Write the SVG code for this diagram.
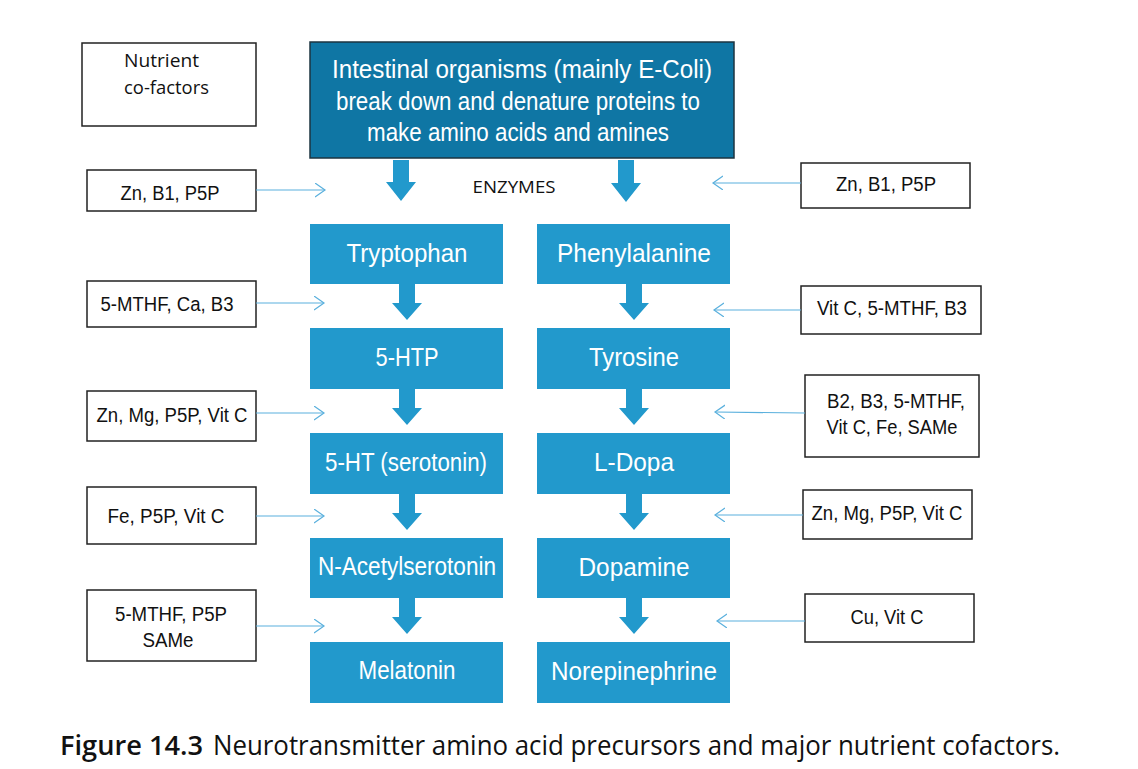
<svg xmlns="http://www.w3.org/2000/svg" width="1138" height="769" viewBox="0 0 1138 769">
<defs>
<style>
.main{fill:#0f76a4;stroke:#1d3440;stroke-width:1.5}
.step{fill:#2299cc}
.cf{fill:#fff;stroke:#222;stroke-width:1.5}
.wt{font-family:"Liberation Sans",Arial,sans-serif;fill:#fff;font-size:25px;text-anchor:middle}
.bt{font-family:"Liberation Sans",Arial,sans-serif;fill:#111;font-size:20.5px;text-anchor:middle}
.ot{font-family:"Open Sans","Liberation Sans",sans-serif;fill:#111}
.blk{fill:#2299cc}
.con{stroke:#5ab0dd;stroke-width:1.2;fill:none;marker-end:url(#chev)}
</style>
<marker id="chev" markerUnits="userSpaceOnUse" markerWidth="12" markerHeight="16" refX="10" refY="7" orient="auto">
<path d="M0,0 L10,7 L0,14" fill="none" stroke="#5ab0dd" stroke-width="1.2"/>
</marker>
</defs>
<rect width="1138" height="769" fill="#fff"/>

<g id="nutrient-cofactors">
<rect class="cf" x="82" y="43" width="174" height="83"/>
<text class="ot" x="124" y="67" font-size="18" textLength="75" lengthAdjust="spacingAndGlyphs">Nutrient</text>
<text class="ot" x="124" y="94" font-size="18" textLength="85" lengthAdjust="spacingAndGlyphs">co-factors</text>
</g>

<g id="intestinal">
<rect class="main" x="310" y="42" width="424" height="116"/>
<text class="wt" x="522" y="78" textLength="380" lengthAdjust="spacingAndGlyphs">Intestinal organisms (mainly E-Coli)</text>
<text class="wt" x="518" y="110" textLength="364" lengthAdjust="spacingAndGlyphs">break down and denature proteins to</text>
<text class="wt" x="518" y="141" textLength="302" lengthAdjust="spacingAndGlyphs">make amino acids and amines</text>
</g>

<g id="enzymes">
<text class="ot" x="514" y="193" font-size="16" text-anchor="middle" textLength="83" lengthAdjust="spacingAndGlyphs">ENZYMES</text>
</g>

<g id="tryptophan"><rect class="step" x="310" y="224" width="193" height="60"/><text class="wt" x="407" y="262" textLength="121" lengthAdjust="spacingAndGlyphs">Tryptophan</text></g>
<g id="htp"><rect class="step" x="310" y="328" width="193" height="61"/><text class="wt" x="407" y="366" textLength="63" lengthAdjust="spacingAndGlyphs">5-HTP</text></g>
<g id="serotonin"><rect class="step" x="310" y="433" width="193" height="61"/><text class="wt" x="406" y="471" textLength="162" lengthAdjust="spacingAndGlyphs">5-HT (serotonin)</text></g>
<g id="nacetyl"><rect class="step" x="310" y="538" width="193" height="60"/><text class="wt" x="407" y="575" textLength="178" lengthAdjust="spacingAndGlyphs">N-Acetylserotonin</text></g>
<g id="melatonin"><rect class="step" x="310" y="642" width="193" height="61"/><text class="wt" x="407" y="679" textLength="97" lengthAdjust="spacingAndGlyphs">Melatonin</text></g>

<g id="phenylalanine"><rect class="step" x="537" y="224" width="193" height="60"/><text class="wt" x="634" y="262" textLength="154" lengthAdjust="spacingAndGlyphs">Phenylalanine</text></g>
<g id="tyrosine"><rect class="step" x="537" y="328" width="193" height="61"/><text class="wt" x="634" y="366" textLength="90" lengthAdjust="spacingAndGlyphs">Tyrosine</text></g>
<g id="ldopa"><rect class="step" x="537" y="433" width="193" height="61"/><text class="wt" x="634" y="471" textLength="80" lengthAdjust="spacingAndGlyphs">L-Dopa</text></g>
<g id="dopamine"><rect class="step" x="537" y="538" width="193" height="60"/><text class="wt" x="634" y="576" textLength="111" lengthAdjust="spacingAndGlyphs">Dopamine</text></g>
<g id="norepinephrine"><rect class="step" x="537" y="642" width="193" height="61"/><text class="wt" x="634" y="680" textLength="166" lengthAdjust="spacingAndGlyphs">Norepinephrine</text></g>

<g id="cf-l1"><rect class="cf" x="87" y="170" width="169" height="41"/><text class="bt" x="170" y="200" textLength="99" lengthAdjust="spacingAndGlyphs">Zn, B1, P5P</text></g>
<g id="cf-l2"><rect class="cf" x="87" y="281" width="169" height="46"/><text class="bt" x="167" y="311" textLength="133" lengthAdjust="spacingAndGlyphs">5-MTHF, Ca, B3</text></g>
<g id="cf-l3"><rect class="cf" x="87" y="391" width="169" height="50"/><text class="bt" x="172" y="422" textLength="151" lengthAdjust="spacingAndGlyphs">Zn, Mg, P5P, Vit C</text></g>
<g id="cf-l4"><rect class="cf" x="87" y="487" width="169" height="57"/><text class="bt" x="166" y="523" textLength="117" lengthAdjust="spacingAndGlyphs">Fe, P5P, Vit C</text></g>
<g id="cf-l5"><rect class="cf" x="87" y="590" width="169" height="71"/><text class="bt" x="171" y="621" textLength="112" lengthAdjust="spacingAndGlyphs">5-MTHF, P5P</text><text class="bt" x="168" y="647" textLength="51" lengthAdjust="spacingAndGlyphs">SAMe</text></g>

<g id="cf-r1"><rect class="cf" x="801" y="163" width="169" height="45"/><text class="bt" x="886" y="191" textLength="100" lengthAdjust="spacingAndGlyphs">Zn, B1, P5P</text></g>
<g id="cf-r2"><rect class="cf" x="801" y="286" width="180" height="48"/><text class="bt" x="892" y="315" textLength="150" lengthAdjust="spacingAndGlyphs">Vit C, 5-MTHF, B3</text></g>
<g id="cf-r3"><rect class="cf" x="805" y="375" width="174" height="82"/><text class="bt" x="896" y="408" textLength="138" lengthAdjust="spacingAndGlyphs">B2, B3, 5-MTHF,</text><text class="bt" x="892" y="434" textLength="131" lengthAdjust="spacingAndGlyphs">Vit C, Fe, SAMe</text></g>
<g id="cf-r4"><rect class="cf" x="803" y="490" width="169" height="49"/><text class="bt" x="887" y="520" textLength="151" lengthAdjust="spacingAndGlyphs">Zn, Mg, P5P, Vit C</text></g>
<g id="cf-r5"><rect class="cf" x="805" y="594" width="169" height="48"/><text class="bt" x="887" y="624" textLength="73" lengthAdjust="spacingAndGlyphs">Cu, Vit C</text></g>

<g id="connectors">
<path class="blk" d="M393,160 H409 V182 H416 L401,201 L386,182 H393 Z"/>
<path class="blk" d="M618,160 H634 V183 H641 L626,202 L611,183 H618 Z"/>
<path class="blk" d="M399,284 H415 V303 H422 L407,320 L392,303 H399 Z"/>
<path class="blk" d="M399,389 H415 V408 H422 L407,425 L392,408 H399 Z"/>
<path class="blk" d="M399,494 H415 V513 H422 L407,530 L392,513 H399 Z"/>
<path class="blk" d="M399,598 H415 V617 H422 L407,634 L392,617 H399 Z"/>
<path class="blk" d="M626,284 H642 V303 H649 L634,320 L619,303 H626 Z"/>
<path class="blk" d="M626,389 H642 V408 H649 L634,425 L619,408 H626 Z"/>
<path class="blk" d="M626,494 H642 V513 H649 L634,530 L619,513 H626 Z"/>
<path class="blk" d="M626,598 H642 V617 H649 L634,634 L619,617 H626 Z"/>
<line class="con" x1="256" y1="190" x2="325" y2="190"/>
<line class="con" x1="256" y1="303" x2="324" y2="303"/>
<line class="con" x1="256" y1="413" x2="324" y2="413"/>
<line class="con" x1="256" y1="516" x2="324" y2="516"/>
<line class="con" x1="256" y1="626" x2="324" y2="626"/>
<line class="con" x1="801" y1="183" x2="713" y2="183"/>
<line class="con" x1="801" y1="310" x2="714" y2="310"/>
<line class="con" x1="805" y1="413" x2="715" y2="412"/>
<line class="con" x1="803" y1="515" x2="715" y2="515"/>
<line class="con" x1="805" y1="621" x2="717" y2="621"/>
</g>

<g id="caption">
<text class="ot" x="60" y="755" font-size="27" font-weight="600" textLength="143" lengthAdjust="spacingAndGlyphs">Figure 14.3</text>
<text class="ot" x="213" y="755" font-size="27" textLength="847" lengthAdjust="spacingAndGlyphs">Neurotransmitter amino acid precursors and major nutrient cofactors.</text>
</g>
</svg>
